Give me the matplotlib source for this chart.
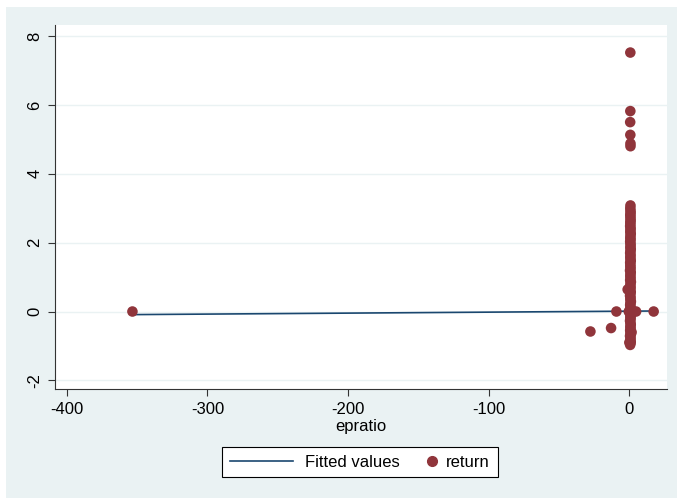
import matplotlib
matplotlib.use("Agg")

import matplotlib.pyplot as plt
from matplotlib.patches import Rectangle
from matplotlib.lines import Line2D
from matplotlib.legend_handler import HandlerLine2DCompound

plt.rcParams["font.family"] = ["Liberation Sans", "DejaVu Sans"]
plt.rcParams["axes.unicode_minus"] = False

# outlying observations
out_x = [-353.4, -27.5, -12.8, -9.0, 17.5, -1.0, 5.0, 0.9, 0.9, 0.8, 0.9, 1.0, 1.0]
out_y = [0.0, -0.58, -0.48, 0.0, 0.0, 0.64, 0.0, 7.52, 5.82, 5.50, 5.13, 4.88, 4.80]

# dense column of observations around epratio = 0
col_x = [0.8, 1.0, 1.2, 0.9, 1.1, 0.7, 1.3, 1.0, 0.8, 1.1, 0.9, 1.2, 1.0, 0.7,
         1.1, 0.9, 1.3, 0.8, 1.0, 1.2, 0.9, 1.1, 0.8, 1.0, 1.3, 0.9, 1.1, 0.7,
         1.0, 1.2, 0.8, 1.1, 0.9, 1.0, 1.3, 0.8, 1.1, 0.9, 1.0, 1.2, 0.7, 1.1,
         0.9, 1.0, 0.8, 1.2, 1.0, 0.9, 1.1, 0.8, 1.0, 1.2, 0.9, 1.1, 1.0, 0.8,
         1.1, 0.9, 1.0, 1.2, 0.9, 1.0, 1.1, 0.8, 1.0, 0.9, 1.1, 1.0, 1.0, 0.9,
         1.1, 1.0, 0.9, 1.0, -0.2, 2.4, 1.8, 0.2]
col_y = [-0.97, -0.92, -0.88, -0.83, -0.77, -0.71, -0.66, -0.62, -0.55, -0.49,
         -0.44, -0.38, -0.33, -0.27, -0.22, -0.16, -0.11, -0.06, -0.02, 0.03,
         0.08, 0.13, 0.19, 0.24, 0.29, 0.35, 0.41, 0.46, 0.52, 0.57, 0.63, 0.69,
         0.74, 0.80, 0.86, 0.91, 0.97, 1.03, 1.08, 1.14, 1.19, 1.25, 1.31, 1.36,
         1.42, 1.47, 1.53, 1.58, 1.64, 1.70, 1.75, 1.81, 1.86, 1.92, 1.98, 2.03,
         2.09, 2.14, 2.20, 2.26, 2.31, 2.37, 2.42, 2.48, 2.53, 2.59, 2.64, 2.70,
         2.76, 2.81, 2.87, 2.93, 3.00, 3.08, 0.0, 0.0, -0.6, -0.9]

# fitted regression line endpoints
fit_x = [-353.4, 17.5]
fit_y = [-0.09, 0.015]

x_ticks = [-400, -300, -200, -100, 0]
y_ticks = [-2, 0, 2, 4, 6, 8]

bg = "#EAF2F3"
maroon = "#90353B"
navy = "#1A476F"


class RightMarkerHandler(HandlerLine2DCompound):
    # put the single legend marker at the right end of the handle box
    def get_xdata(self, legend, xdescent, ydescent, width, height, fontsize):
        xdata = [-xdescent, -xdescent + width]
        return xdata, [-xdescent + width - 2]


fig = plt.figure(figsize=(6.77, 4.98), dpi=100)
fig.patch.set_facecolor("white")
fig.add_artist(Rectangle((6 / 677, 0), 1, 1 - 7 / 498,
                         transform=fig.transFigure, facecolor=bg,
                         edgecolor="none", zorder=-10))

ax = fig.add_axes([55 / 677, 1 - 389 / 498, (667 - 55) / 677, (389 - 25) / 498])
ax.set_zorder(1)
ax.set_facecolor("white")

ax.plot(fit_x, fit_y, color=navy, linewidth=1.2, zorder=3)
ax.scatter(out_x + col_x, out_y + col_y, s=58, color=maroon, edgecolors="none",
           zorder=4)

ax.set_xlim(-408.5, 27)
ax.set_ylim(-2.25, 8.32)
ax.set_xticks(x_ticks)
ax.set_yticks(y_ticks)
ax.set_yticklabels([str(v) for v in y_ticks], rotation=90, va="center")
ax.tick_params(axis="both", labelsize=12, length=5, width=0.8, pad=4,
               color="#333333", labelcolor="black")
ax.grid(True, axis="y", color=bg, linewidth=1.0, zorder=0)
ax.set_axisbelow(True)

for side in ["top", "right"]:
    ax.spines[side].set_visible(False)
for side in ["left", "bottom"]:
    ax.spines[side].set_color("#333333")
    ax.spines[side].set_linewidth(0.8)

ax.set_xlabel("epratio", fontsize=12, labelpad=1.5)

h_fit = Line2D([], [], color=navy, linewidth=1.2)
h_ret = Line2D([], [], color=maroon, marker="o", markersize=7, linestyle="none")
leg = fig.legend([h_fit, h_ret], ["Fitted values", "return"],
                 handler_map={h_ret: RightMarkerHandler()},
                 loc="center", bbox_to_anchor=(360 / 677, 1 - 462 / 498),
                 ncol=2, fontsize=12, frameon=True, fancybox=False,
                 handlelength=3.8, handletextpad=0.7, columnspacing=-1.7,
                 borderpad=0.45, borderaxespad=0,
                 edgecolor="black", facecolor="white", framealpha=1)
leg.get_frame().set_linewidth(0.8)
leg.set_zorder(5)

fig.savefig("out.png", dpi=100, facecolor=fig.get_facecolor())
